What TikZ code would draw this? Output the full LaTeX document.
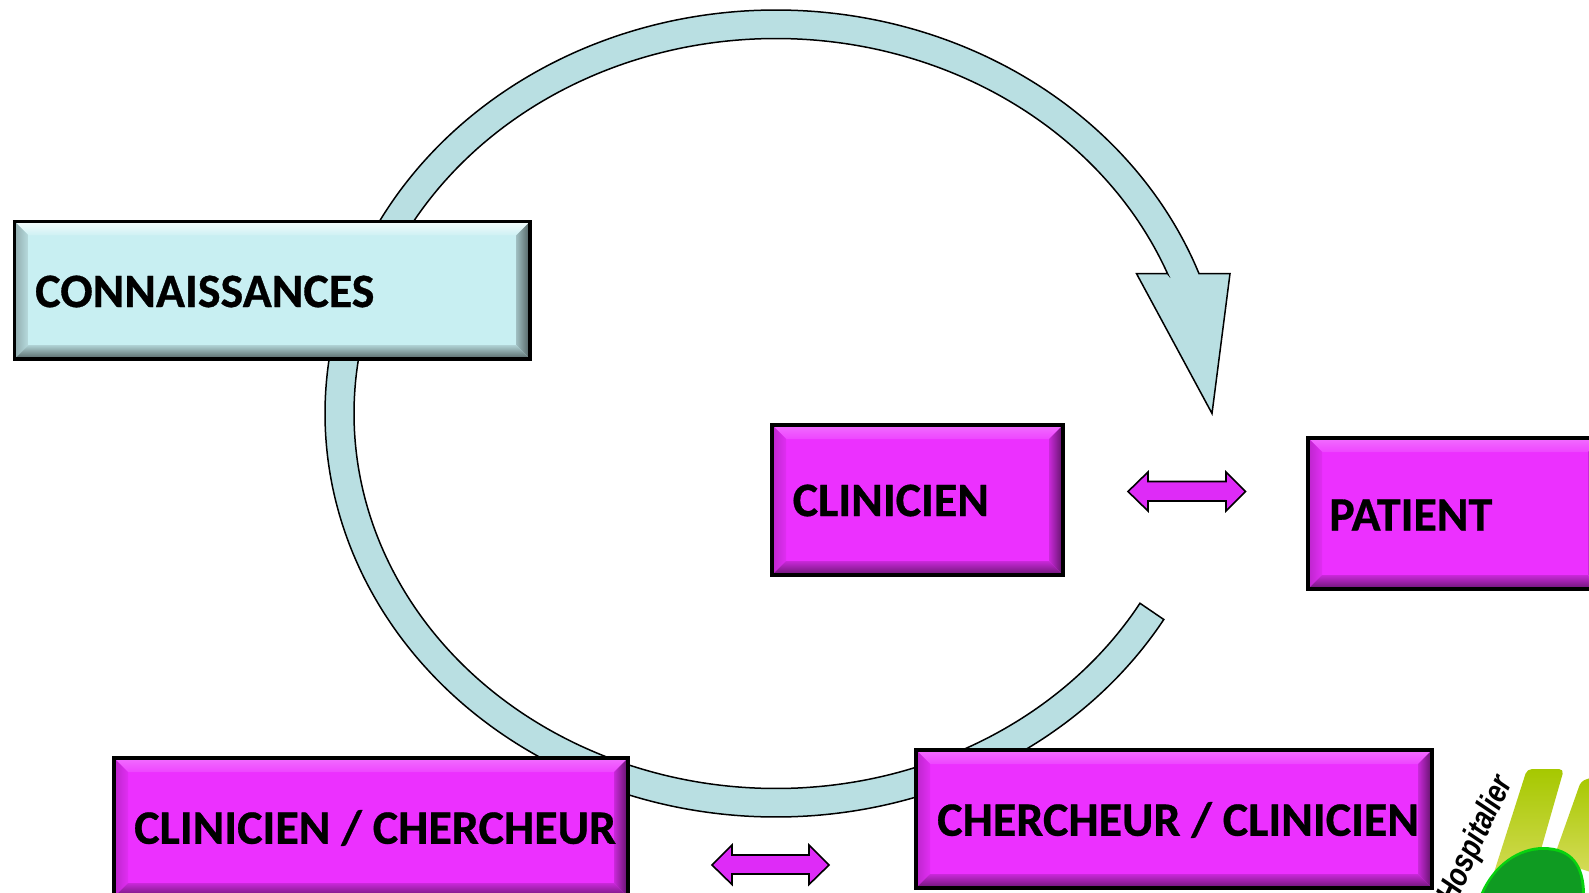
\documentclass[tikz,border=0pt]{standalone}
\usepackage{fontspec}
\setmainfont[BoldFeatures={FakeBold=0.6}]{Carlito}
\newfontfamily\logofont[BoldFeatures={FakeBold=0.4}]{Liberation Sans}
\usetikzlibrary{fit}
\definecolor{ringc}{HTML}{B9DFE2}
\definecolor{arrowm}{HTML}{DE2BF7}
\definecolor{aqface}{HTML}{C8EFF2}
\definecolor{maface}{HTML}{EC30FF}
\definecolor{barTop}{HTML}{A6C800}
\definecolor{barLow}{HTML}{D6DC5A}
\definecolor{domeC}{HTML}{0F9B22}
\tikzset{
  ring/.style={draw=black,line width=1.5pt,fill=ringc,line join=miter},
  dblarrow/.style={draw=black,line width=1.6pt,fill=arrowm,line join=miter},
  boxline/.style={draw=black,line width=3.2pt,inner sep=0pt},
  label/.style={inner sep=0pt,anchor=west,font=\bfseries\fontsize{48}{52}\selectfont,text=black},
  aq-face/.style={fill=aqface},
  aq-top/.style={top color=aqface!20!white,bottom color=aqface!90!white},
  aq-left/.style={left color=aqface!72!black,right color=aqface!92!black},
  aq-right/.style={left color=aqface!80!black,right color=aqface!40!black},
  aq-bottom/.style={top color=aqface!88!black,bottom color=aqface!42!black},
  ma-face/.style={fill=maface},
  ma-top/.style={top color=maface!70!white,bottom color=maface!90!white},
  ma-left/.style={left color=maface!80!black,right color=maface!95!black},
  ma-right/.style={left color=maface!85!black,right color=maface!40!black},
  ma-bottom/.style={top color=maface!85!black,bottom color=maface!45!black},
}
\newcommand{\bevelbox}[6]{%
  \coordinate (#1-nw) at (#2,#3);
  \coordinate (#1-se) at (#4,#5);
  \fill[#6-face] (#2,#3) rectangle (#4,#5);
  \shade[#6-top] (#2,#3) -- (#4,#3) -- ({#4-14},{#3+14}) -- ({#2+14},{#3+14}) -- cycle;
  \shade[#6-left] (#2,#3) -- ({#2+14},{#3+14}) -- ({#2+14},{#5-14}) -- (#2,#5) -- cycle;
  \shade[#6-right] (#4,#3) -- ({#4-14},{#3+14}) -- ({#4-14},{#5-14}) -- (#4,#5) -- cycle;
  \shade[#6-bottom] (#2,#5) -- ({#2+14},{#5-14}) -- ({#4-14},{#5-14}) -- (#4,#5) -- cycle;
  \node[boxline,fit=(#1-nw)(#1-se)] (#1) {};
}
\begin{document}
\begin{tikzpicture}[x=1pt,y=-1pt]
\useasboundingbox (0,0) rectangle (1589,893);
\clip (0,0) rectangle (1589,893);
\fill[white] (0,0) rectangle (1589,893);
% big circular arrow
\path[ring] plot[domain=30.7:339.7,samples=240,smooth,variable=\t] ({776+451*cos(\t)},{413.5+403.5*sin(\t)})
  -- (1230,273.6) -- (1212,413.5) -- (1136.5,273.6) -- (1167.5,273.6)
  -- plot[domain=338.1:30.4,samples=240,smooth,variable=\t] ({776+422*cos(\t)},{413.5+375*sin(\t)}) -- cycle;
% boxes
\bevelbox{know}{14.5}{221.5}{530}{359}{aq}
\bevelbox{clin}{772}{425}{1063}{575}{ma}
\bevelbox{pat}{1308}{438}{1602}{589}{ma}
\bevelbox{clch}{114}{758}{628}{897}{ma}
\bevelbox{chcl}{916}{750}{1432}{888}{ma}
\node[label] (t1) at (35,291.5) {CONNAISSANCES};
\node[label] (t2) at (792.5,500.5) {CLINICIEN};
\node[label] (t3) at (1329,515) {PATIENT};
\node[label] (t4) at (134,828) {CLINICIEN / CHERCHEUR};
\node[label] (t5) at (937,820) {CHERCHEUR / CLINICIEN};
% double arrows
\path[dblarrow] (1128,491.5) -- (1148,472) -- (1148,481.5) -- (1226,481.5) -- (1226,472) -- (1245.5,491.5)
  -- (1226,511) -- (1226,501) -- (1148,501) -- (1148,511) -- cycle;
\path[dblarrow] (712,865) -- (732,845) -- (732,855) -- (809,855) -- (809,845) -- (829,865)
  -- (809,884.5) -- (809,874) -- (732,874) -- (732,884.5) -- cycle;
% logo fragment
\shade[top color=barTop,bottom color=barLow,rounded corners=5pt]
  (1527,769) -- (1564,769) -- (1538,860) -- (1490,885) -- cycle;
\shade[top color=barTop,bottom color=barLow,rounded corners=5pt]
  (1581,781) -- (1600,775) -- (1600,875) -- (1553,860) -- cycle;
\fill[green!55!domeC] (1480,895) .. controls (1493,863) and (1520,847) .. (1543,847)
  .. controls (1572,847) and (1585,865) .. (1585,895) -- cycle;
\fill[domeC] (1483,895) .. controls (1495,865) and (1520,850) .. (1543,850)
  .. controls (1570,850) and (1582,865) .. (1582,895) -- cycle;
\node[inner sep=0pt,anchor=east,rotate=65,xscale=0.8,font=\logofont\bfseries\itshape\fontsize{33}{34}\selectfont] (logo) at (1505,778) {Hospitalier};
\end{tikzpicture}
\end{document}
